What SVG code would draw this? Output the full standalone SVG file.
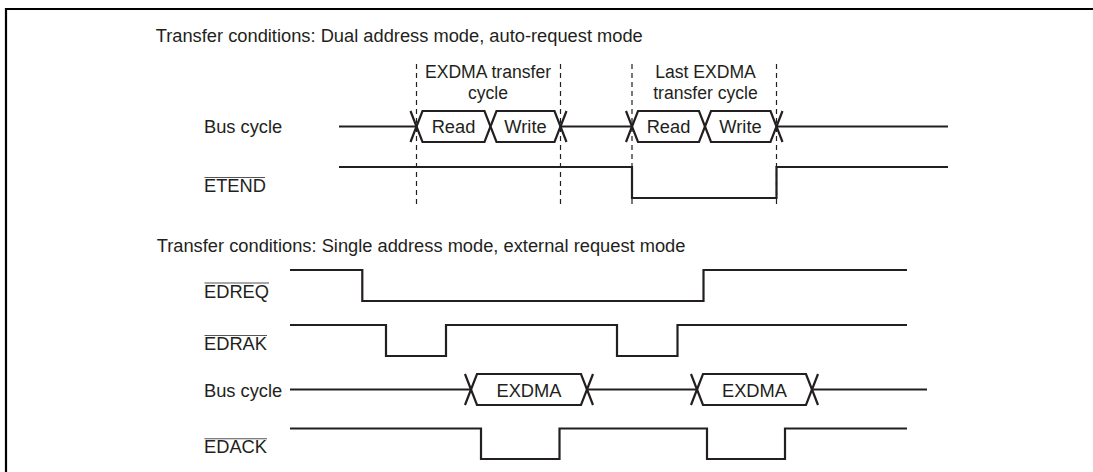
<svg xmlns="http://www.w3.org/2000/svg" width="1093" height="472" viewBox="0 0 1093 472">
<style>
text{font-family:"Liberation Sans",Arial,Helvetica,sans-serif;font-size:18.3px;fill:#231f20}
.c{text-anchor:middle}
.s2{font-size:17.6px}
.sig{fill:none;stroke:#231f20;stroke-width:2.2;stroke-linejoin:miter}
.box{fill:#fff;stroke:#231f20;stroke-width:2.2;stroke-linejoin:miter}
.dash{stroke:#231f20;stroke-width:1.2;stroke-dasharray:5 4;fill:none}
.ov{stroke:#555;stroke-width:1.1}
.frame{stroke:#000;stroke-width:2.2;fill:none}
</style>
<rect width="1093" height="472" fill="#fff"/>
<path class="frame" d="M6 472 V9 H1093"/>

<g id="section-dual">
<text x="155.7" y="42">Transfer conditions: Dual address mode, auto-request mode</text>
<g id="guides-dual">
<line class="dash" x1="416.5" y1="64" x2="416.5" y2="208"/>
<line class="dash" x1="560.5" y1="64" x2="560.5" y2="208"/>
<line class="dash" x1="632" y1="64" x2="632" y2="208"/>
<line class="dash" x1="776.5" y1="64" x2="776.5" y2="208"/>
<text class="c s2" x="488" y="78.3">EXDMA transfer</text>
<text class="c s2" x="488" y="98.5">cycle</text>
<text class="c s2" x="705.5" y="78.3">Last EXDMA</text>
<text class="c s2" x="705.5" y="98.5">transfer cycle</text>
</g>
<g id="bus-dual">
<text x="204" y="133">Bus cycle</text>
<path class="sig" d="M339 126.5 H416.5 M560.5 126.5 H632 M776.5 126.5 H948"/>
<polygon class="box" points="416.5,126.5 422.5,111 484.5,111 490.5,126.5 484.5,142 422.5,142"/>
<polygon class="box" points="490.5,126.5 496.5,111 554.5,111 560.5,126.5 554.5,142 496.5,142"/>
<polygon class="box" points="632,126.5 638,111 699,111 705,126.5 699,142 638,142"/>
<polygon class="box" points="705,126.5 711,111 770.5,111 776.5,126.5 770.5,142 711,142"/>
<path class="sig" d="M410.5 111 L416.5 126.5 L410.5 142 M566.5 111 L560.5 126.5 L566.5 142 M626 111 L632 126.5 L626 142 M782.5 111 L776.5 126.5 L782.5 142"/>
<text class="c" x="453.5" y="133">Read</text>
<text class="c" x="525.5" y="133">Write</text>
<text class="c" x="668.5" y="133">Read</text>
<text class="c" x="740.5" y="133">Write</text>
</g>
<g id="etend">
<text x="204" y="191.7">ETEND</text>
<line class="ov" x1="204.5" y1="177.5" x2="265" y2="177.5"/>
<path class="sig" d="M339 167 H632 V198 H776.5 V167 H948"/>
</g>
</g>

<g id="section-single">
<text x="156.7" y="251.7">Transfer conditions: Single address mode, external request mode</text>
<g id="edreq">
<text x="204" y="297.7">EDREQ</text>
<line class="ov" x1="204.5" y1="283" x2="269" y2="283"/>
<path class="sig" d="M290 270 H362.3 V301 H703.5 V270 H907"/>
</g>
<g id="edrak">
<text x="204" y="350">EDRAK</text>
<line class="ov" x1="204.5" y1="335.5" x2="267" y2="335.5"/>
<path class="sig" d="M290 325 H386 V356 H446 V325 H617 V356 H677.5 V325 H907"/>
</g>
<g id="bus-single">
<text x="204" y="396.7">Bus cycle</text>
<path class="sig" d="M290 389.5 H471 M587 389.5 H697 M812 389.5 H927"/>
<polygon class="box" points="471,389.5 477,374 581,374 587,389.5 581,405 477,405"/>
<polygon class="box" points="697,389.5 703,374 806,374 812,389.5 806,405 703,405"/>
<path class="sig" d="M465 374 L471 389.5 L465 405 M593 374 L587 389.5 L593 405 M691 374 L697 389.5 L691 405 M818 374 L812 389.5 L818 405"/>
<text class="c" x="529" y="396.7">EXDMA</text>
<text class="c" x="754.5" y="396.7">EXDMA</text>
</g>
<g id="edack">
<text x="204" y="453.3">EDACK</text>
<line class="ov" x1="204.5" y1="438.8" x2="267" y2="438.8"/>
<path class="sig" d="M290 428.5 H481 V459 H559.5 V428.5 H707 V459 H785 V428.5 H907"/>
</g>
</g>
</svg>
